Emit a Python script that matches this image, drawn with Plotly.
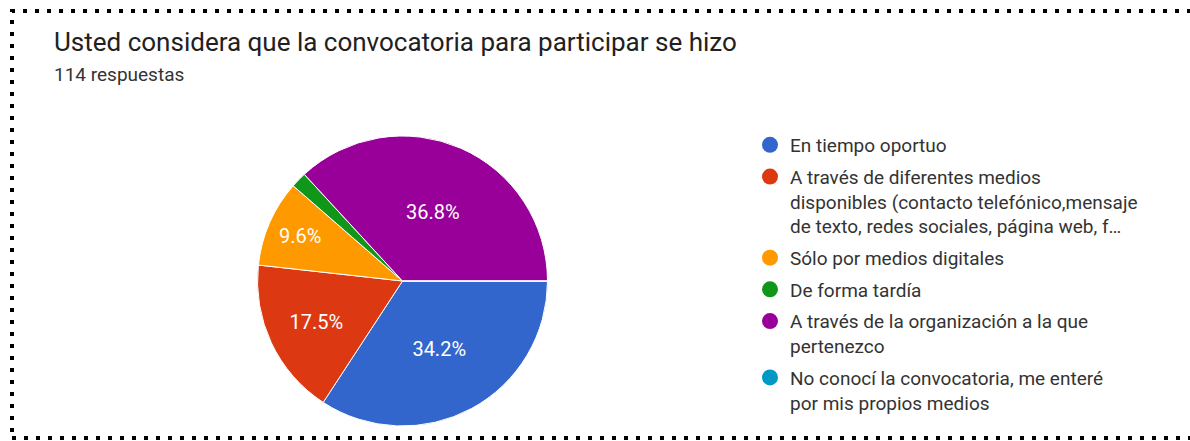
import plotly.graph_objects as go

# ---- data ----
title_text = "Usted considera que la convocatoria para participar se hizo"
subtitle_text = "114 respuestas"
categories = [
    "En tiempo oportuo",
    "A través de diferentes medios<br>disponibles (contacto telefónico,mensaje<br>de texto, redes sociales, página web, f…",
    "Sólo por medios digitales",
    "De forma tardía",
    "A través de la organización a la que<br>pertenezco",
    "No conocí la convocatoria, me enteré<br>por mis propios medios",
]
counts = [39, 20, 11, 2, 42, 0]
colors = ["#3366cc", "#dc3912", "#ff9900", "#109618", "#990099", "#0099c6"]

W, H = 1190, 441
total = sum(counts)
slice_text = [f"{c / total * 100:.1f}%" if c / total >= 0.05 else "" for c in counts]

# pie geometry (pixels)
cx, cy, r = 402.5, 281, 145

fig = go.Figure()
fig.add_trace(go.Pie(
    labels=categories,
    values=counts,
    text=slice_text,
    textinfo="text",
    textposition="inside",
    insidetextorientation="horizontal",
    textfont=dict(family="Roboto, Arial, sans-serif", size=20, color="white"),
    marker=dict(colors=colors, line=dict(color="white", width=1)),
    sort=False,
    direction="clockwise",
    rotation=90,
    showlegend=False,
    hoverinfo="label+percent",
    domain=dict(x=[(cx - r) / W, (cx + r) / W], y=[1 - (cy + r) / H, 1 - (cy - r) / H]),
))

# legend entries with circle symbols
for name, col in zip(categories, colors):
    fig.add_trace(go.Scatter(
        x=[None], y=[None], mode="markers", name=name,
        marker=dict(symbol="circle", size=19, color=col),
        legendgroup=name, showlegend=True, hoverinfo="skip",
    ))

def px_x(p):
    return p / W

def px_y(p):
    return 1 - p / H

fig.update_layout(
    width=W, height=H,
    margin=dict(l=0, r=0, t=0, b=0),
    paper_bgcolor="white", plot_bgcolor="white",
    xaxis=dict(visible=False), yaxis=dict(visible=False),
    font=dict(family="Roboto, Arial, sans-serif", color="#333333"),
    legend=dict(
        x=px_x(750), y=px_y(126), xanchor="left", yanchor="top",
        font=dict(size=19, color="#333333"),
        tracegroupgap=4, itemsizing="trace", valign="top",
        bgcolor="rgba(0,0,0,0)",
    ),
    annotations=[
        dict(text=title_text, x=px_x(52), y=px_y(42), xref="paper", yref="paper",
             xanchor="left", yanchor="middle", showarrow=False,
             font=dict(size=26, color="#212121", family="Roboto, Arial, sans-serif")),
        dict(text=subtitle_text, x=px_x(52), y=px_y(74), xref="paper", yref="paper",
             xanchor="left", yanchor="middle", showarrow=False,
             font=dict(size=19, color="#333333", family="Roboto, Arial, sans-serif")),
    ],
    shapes=[
        dict(type="rect", xref="paper", yref="paper",
             x0=px_x(12), x1=px_x(1210), y0=px_y(438), y1=px_y(11),
             line=dict(color="black", width=4, dash="4px,8px"),
             fillcolor="rgba(0,0,0,0)", layer="above"),
    ],
)

fig.write_html("out.html", config={"displayModeBar": False},
               post_script="document.body.style.margin='0';")
